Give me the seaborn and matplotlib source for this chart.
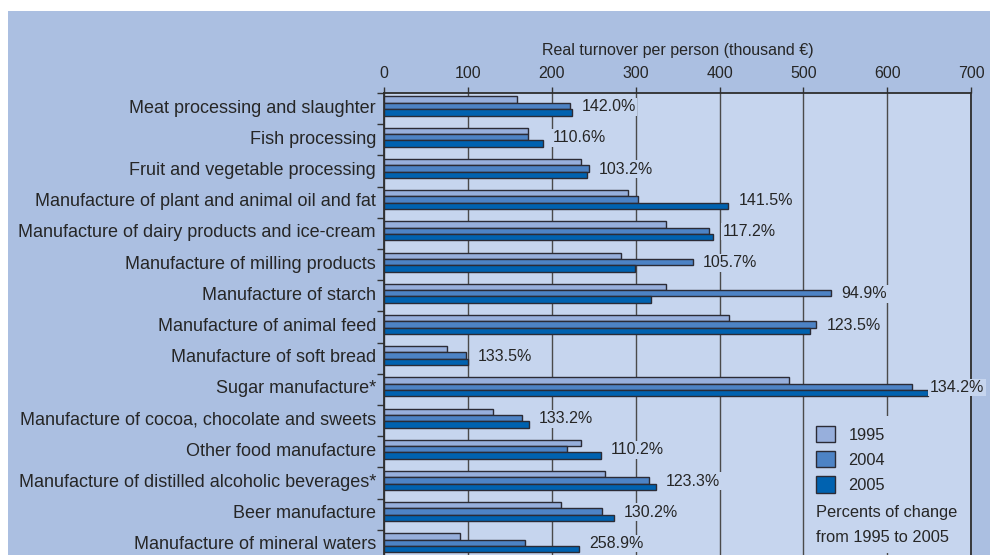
import matplotlib
matplotlib.use("Agg")
import matplotlib.pyplot as plt
from matplotlib.patches import Rectangle
import seaborn as sns
import pandas as pd

categories = [
    "Meat processing and slaughter",
    "Fish processing",
    "Fruit and vegetable processing",
    "Manufacture of plant and animal oil and fat",
    "Manufacture of dairy products and ice-cream",
    "Manufacture of milling products",
    "Manufacture of starch",
    "Manufacture of animal feed",
    "Manufacture of soft bread",
    "Sugar manufacture*",
    "Manufacture of cocoa, chocolate and sweets",
    "Other food manufacture",
    "Manufacture of distilled alcoholic beverages*",
    "Beer manufacture",
    "Manufacture of mineral waters",
]
years = ["1995", "2004", "2005"]
v1995 = [158, 171.5, 235, 290.5, 336, 283, 336.5, 411, 75, 483, 129.5, 234.5, 263.5, 210.5, 90]
v2004 = [221, 171, 244, 303, 387, 368.5, 533.5, 515.5, 97.5, 630, 164, 217.5, 315.5, 259.5, 167.5]
v2005 = [223.5, 189, 242, 410.5, 392, 299, 318.5, 508.5, 99.5, 649, 172.5, 258.5, 324, 273.5, 232.5]
pct_labels = ["142.0%", "110.6%", "103.2%", "141.5%", "117.2%", "105.7%", "94.9%", "123.5%",
              "133.5%", "134.2%", "133.2%", "110.2%", "123.3%", "130.2%", "258.9%"]
xticks = [0, 100, 200, 300, 400, 500, 600, 700]
xlabel = "Real turnover per person (thousand €)"
note_lines = ["Percents of change", "from 1995 to 2005"]

OUTER = "#abbfe1"
PLOTBG = "#c6d5ee"
TXT = "#262626"
colors = ["#97afdc", "#4d83c5", "#0062b0"]

sns.set_theme(style="white")
plt.rcParams["font.family"] = ["Liberation Sans", "DejaVu Sans"]
FS = 11.5
FS_CAT = 13
FS_LEG = 11.8

df = pd.DataFrame({
    "category": categories * 3,
    "value": v1995 + v2004 + v2005,
    "year": [years[0]] * len(categories) + [years[1]] * len(categories) + [years[2]] * len(categories),
})

W, H = 990, 555
fig = plt.figure(figsize=(9.9, 5.55), dpi=100, facecolor="white")
fig.patches.append(Rectangle((8 / W, 0), 1 - 8 / W, 1 - 11 / H, transform=fig.transFigure,
                             facecolor=OUTER, edgecolor="none", zorder=-10))

left, right, top = 384.3 / W, 971 / W, 1 - 93 / H
ax = fig.add_axes([left, 0, right - left, top])
ax.set_facecolor(PLOTBG)

sns.barplot(data=df, y="category", x="value", hue="year", hue_order=years,
            palette=colors, orient="h", width=0.61, edgecolor="#2b2b35", linewidth=1.0,
            saturation=1, ax=ax, errorbar=None)

ax.set_xlim(0, 700)
ax.set_ylim(14.39, -0.417)
ax.set_axisbelow(True)
ax.set_xticks(xticks)
ax.xaxis.grid(True, color="#4a4a4a", linewidth=1.0)
ax.yaxis.grid(False)
ax.xaxis.tick_top()
ax.tick_params(axis="x", which="major", top=True, bottom=False, length=4, width=1,
               color="#333333", pad=5, labelsize=FS, labelcolor=TXT)
ax.set_xlabel("")
ax.set_ylabel("")

ax.set_yticks(range(len(categories)))
ax.set_yticklabels(categories)
ax.tick_params(axis="y", which="major", length=0, pad=6, labelsize=FS_CAT, labelcolor=TXT)
ax.set_yticks([i - 0.417 for i in range(len(categories))], minor=True)
ax.tick_params(axis="y", which="minor", left=True, length=5, width=1, color="#333333")

for side in ["top", "left", "right"]:
    ax.spines[side].set_visible(True)
    ax.spines[side].set_color("#2e2e2e")
    ax.spines[side].set_linewidth(1.3)
ax.spines["bottom"].set_visible(False)

# percentage labels
for i, lab in enumerate(pct_labels):
    xmax = max(v1995[i], v2004[i], v2005[i])
    x = min(xmax + 12, 651)
    ax.text(x, i + 0.02, lab, ha="left", va="center", fontsize=FS, color=TXT,
            bbox=dict(facecolor=PLOTBG, edgecolor="none", pad=1.0), zorder=4, clip_on=False)

fig.text((left + right) / 2, 1 - 50 / H, xlabel, ha="center", va="center",
         fontsize=FS, color=TXT)

# legend
handles, labels = ax.get_legend_handles_labels()
if ax.get_legend() is not None:
    ax.get_legend().remove()
ax.add_patch(Rectangle((808 / W, 1 - 553 / H), 158 / W, 137 / H, transform=fig.transFigure,
                       facecolor=PLOTBG, edgecolor="none", zorder=0.8))
leg = ax.legend(handles, labels, loc="upper left", bbox_to_anchor=(815.7 / W, 1 - 426 / H),
                bbox_transform=fig.transFigure, frameon=False, fontsize=FS_LEG,
                handlelength=1.15, handleheight=1.15, handletextpad=0.85,
                labelspacing=0.52, borderpad=0, borderaxespad=0)
for t in leg.get_texts():
    t.set_color(TXT)
fig.text(815.7 / W, 1 - 513 / H, note_lines[0], ha="left", va="center", fontsize=FS_LEG, color=TXT)
fig.text(815.7 / W, 1 - 537 / H, note_lines[1], ha="left", va="center", fontsize=FS_LEG, color=TXT)

fig.savefig("out.png", dpi=100, facecolor=fig.get_facecolor())
